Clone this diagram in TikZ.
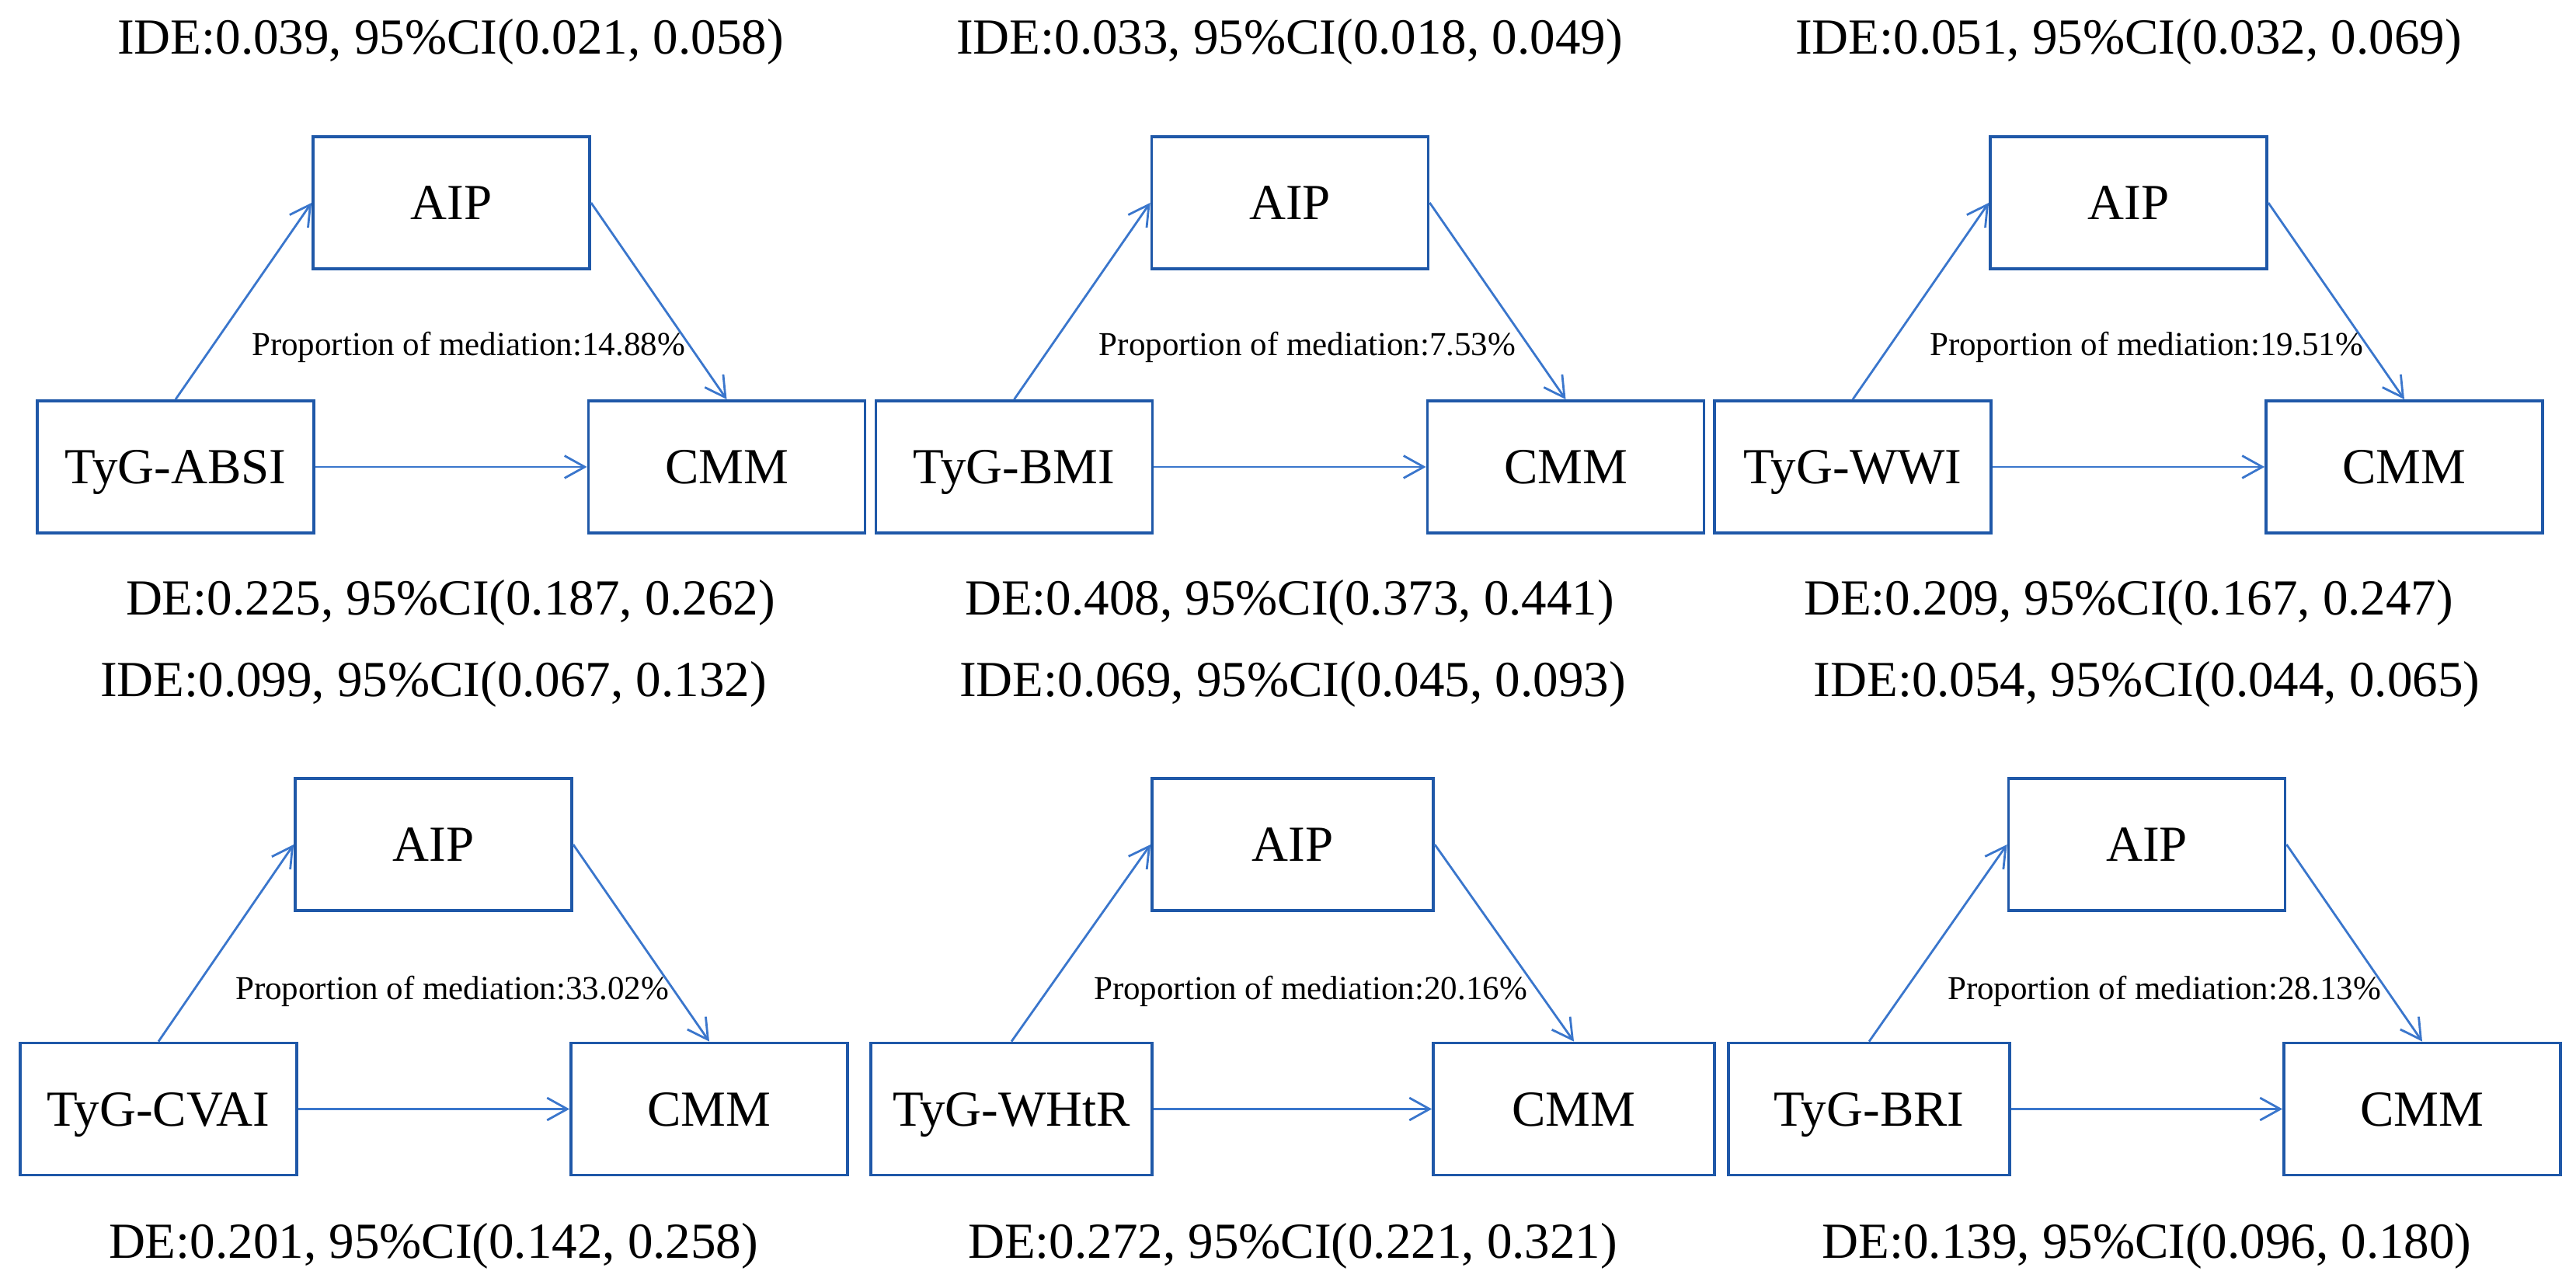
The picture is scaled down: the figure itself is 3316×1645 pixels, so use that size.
\documentclass[tikz,border=0pt]{standalone}
\usepackage{fontspec}
\setmainfont{Liberation Serif}
\usepackage{tikz}
\usetikzlibrary{arrows.meta}
\definecolor{boxblue}{RGB}{31,88,168}
\definecolor{lineblue}{RGB}{58,118,204}

\begin{document}
\begin{tikzpicture}[
  x=0.25pt, y=-0.25pt,
  font=\fontsize{16.25}{19}\selectfont,
  >={Straight Barb[length=6.5pt,width=7.2pt]},
  varnode/.style={rectangle, draw=boxblue, line width=0.95pt, minimum width=89pt, minimum height=42.5pt, inner sep=0pt, text depth=0pt},
  widenode/.style={varnode, minimum width=90.5pt},
  effmap/.style={->, draw=lineblue, line width=0.7pt},
  effect/.style={anchor=base, inner sep=0pt},
  propnote/.style={anchor=base, inner sep=0pt, font=\fontsize{10.75}{13}\selectfont}
]
  \useasboundingbox (0,0) rectangle (3316,1645);

  \node[varnode] (x1) at (226,601) {TyG-ABSI};
  \node[varnode] (m1) at (581,261) {AIP};
  \node[varnode] (y1) at (935.5,601) {CMM};
  \draw[effmap] (x1.north) -- (m1.west);
  \draw[effmap] (m1.east) -- (y1.north);
  \draw[effmap] (x1) -- (y1);
  \node[effect] (ide1) at (580,70) {IDE:0.039, 95\%CI(0.021, 0.058)};
  \node[effect] (de1) at (580,792) {DE:0.225, 95\%CI(0.187, 0.262)};
  \node[propnote] (pm1) at (603,458) {Proportion of mediation:14.88\%};

  \node[varnode] (x2) at (1305.5,601) {TyG-BMI};
  \node[varnode] (m2) at (1660.5,261) {AIP};
  \node[varnode] (y2) at (2015.5,601) {CMM};
  \draw[effmap] (x2.north) -- (m2.west);
  \draw[effmap] (m2.east) -- (y2.north);
  \draw[effmap] (x2) -- (y2);
  \node[effect] (ide2) at (1660,70) {IDE:0.033, 95\%CI(0.018, 0.049)};
  \node[effect] (de2) at (1660,792) {DE:0.408, 95\%CI(0.373, 0.441)};
  \node[propnote] (pm2) at (1683,458) {Proportion of mediation:7.53\%};

  \node[varnode] (x3) at (2385,601) {TyG-WWI};
  \node[varnode] (m3) at (2740,261) {AIP};
  \node[varnode] (y3) at (3095,601) {CMM};
  \draw[effmap] (x3.north) -- (m3.west);
  \draw[effmap] (m3.east) -- (y3.north);
  \draw[effmap] (x3) -- (y3);
  \node[effect] (ide3) at (2740,70) {IDE:0.051, 95\%CI(0.032, 0.069)};
  \node[effect] (de3) at (2740,792) {DE:0.209, 95\%CI(0.167, 0.247)};
  \node[propnote] (pm3) at (2763,458) {Proportion of mediation:19.51\%};

  \node[varnode] (x4) at (204,1427.5) {TyG-CVAI};
  \node[varnode] (m4) at (558,1087) {AIP};
  \node[varnode] (y4) at (913,1427.5) {CMM};
  \draw[effmap] (x4.north) -- (m4.west);
  \draw[effmap] (m4.east) -- (y4.north);
  \draw[effmap] (x4) -- (y4);
  \node[effect] (ide4) at (558,897) {IDE:0.099, 95\%CI(0.067, 0.132)};
  \node[effect] (de4) at (558,1619) {DE:0.201, 95\%CI(0.142, 0.258)};
  \node[propnote] (pm4) at (582,1286) {Proportion of mediation:33.02\%};

  \node[widenode] (x5) at (1302,1427.5) {TyG-WHtR};
  \node[widenode] (m5) at (1664,1087) {AIP};
  \node[widenode] (y5) at (2026,1427.5) {CMM};
  \draw[effmap] (x5.north) -- (m5.west);
  \draw[effmap] (m5.east) -- (y5.north);
  \draw[effmap] (x5) -- (y5);
  \node[effect] (ide5) at (1664,897) {IDE:0.069, 95\%CI(0.045, 0.093)};
  \node[effect] (de5) at (1664,1619) {DE:0.272, 95\%CI(0.221, 0.321)};
  \node[propnote] (pm5) at (1687,1286) {Proportion of mediation:20.16\%};

  \node[widenode] (x6) at (2406,1427.5) {TyG-BRI};
  \node[varnode] (m6) at (2763.5,1087) {AIP};
  \node[varnode] (y6) at (3118,1427.5) {CMM};
  \draw[effmap] (x6.north) -- (m6.west);
  \draw[effmap] (m6.east) -- (y6.north);
  \draw[effmap] (x6) -- (y6);
  \node[effect] (ide6) at (2763.5,897) {IDE:0.054, 95\%CI(0.044, 0.065)};
  \node[effect] (de6) at (2763.5,1619) {DE:0.139, 95\%CI(0.096, 0.180)};
  \node[propnote] (pm6) at (2786,1286) {Proportion of mediation:28.13\%};
\end{tikzpicture}
\end{document}
